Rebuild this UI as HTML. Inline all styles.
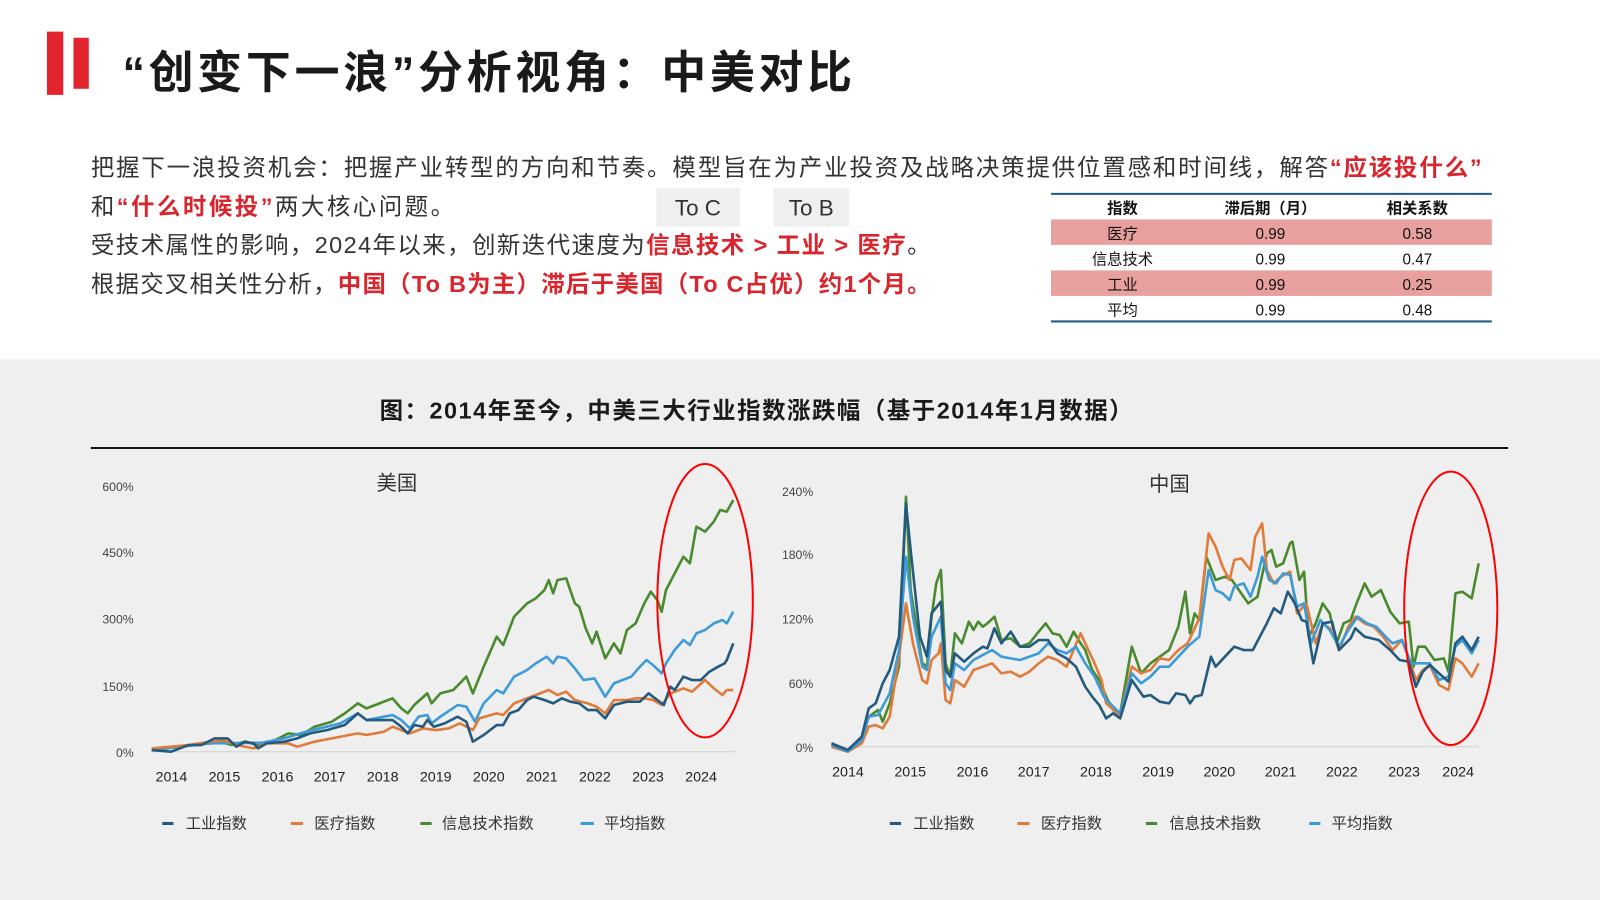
<!DOCTYPE html>
<html><head><meta charset="utf-8"><style>
html,body{margin:0;padding:0;background:#fff;}
svg{display:block;}
text{font-family:"Liberation Sans","Noto Sans CJK SC",sans-serif;}
</style></head><body>
<svg width="1600" height="900" viewBox="0 0 1568 882" preserveAspectRatio="none" xmlns="http://www.w3.org/2000/svg">
<rect x="0" y="0" width="1568" height="882" fill="#fff"/>
<rect x="0" y="352" width="1568" height="530" fill="#efefef"/>
<rect x="46" y="31" width="16" height="62" fill="#e3242f"/>
<rect x="72" y="37" width="15" height="50" fill="#e3242f"/>
<text x="120" y="86" font-size="44" font-weight="bold" fill="#1a1a1a" textLength="715" lengthAdjust="spacing">“创变下一浪”分析视角：中美对比</text>
<g font-size="23" fill="#333">
<text x="89" y="172" textLength="1363" lengthAdjust="spacing">把握下一浪投资机会：把握产业转型的方向和节奏。模型旨在为产业投资及战略决策提供位置感和时间线，解答<tspan fill="#d9262e" font-weight="bold">“应该投什么”</tspan></text>
<text x="89" y="210" textLength="356" lengthAdjust="spacing">和<tspan fill="#d9262e" font-weight="bold">“什么时候投”</tspan>两大核心问题。</text>
<text x="89" y="248" textLength="823" lengthAdjust="spacing">受技术属性的影响，2024年以来，创新迭代速度为<tspan fill="#d9262e" font-weight="bold">信息技术 &gt; 工业 &gt; 医疗</tspan>。</text>
<text x="89" y="286" textLength="823" lengthAdjust="spacing">根据交叉相关性分析，<tspan fill="#d9262e" font-weight="bold">中国（To B为主）滞后于美国（To C占优）约1个月。</tspan></text>
</g>
<rect x="643" y="184" width="82" height="38" fill="#efefef"/>
<rect x="758" y="184" width="74" height="38" fill="#efefef"/>
<text x="684" y="211" font-size="22" fill="#333" text-anchor="middle">To C</text>
<text x="795" y="211" font-size="22" fill="#333" text-anchor="middle">To B</text>
<rect x="1030" y="215" width="432" height="25" fill="#e8a09f"/>
<rect x="1030" y="265" width="432" height="25" fill="#e8a09f"/>
<line x1="1030" y1="190" x2="1462" y2="190" stroke="#1f5c8a" stroke-width="2"/>
<line x1="1030" y1="315" x2="1462" y2="315" stroke="#1f5c8a" stroke-width="2"/>
<g font-size="15" fill="#111" text-anchor="middle">
<text x="1100" y="209" font-weight="bold">指数</text><text x="1245" y="209" font-weight="bold">滞后期（月）</text><text x="1389" y="209" font-weight="bold">相关系数</text>
<text x="1100" y="234">医疗</text><text x="1245" y="234">0.99</text><text x="1389" y="234">0.58</text>
<text x="1100" y="259">信息技术</text><text x="1245" y="259">0.99</text><text x="1389" y="259">0.47</text>
<text x="1100" y="284">工业</text><text x="1245" y="284">0.99</text><text x="1389" y="284">0.25</text>
<text x="1100" y="309">平均</text><text x="1245" y="309">0.99</text><text x="1389" y="309">0.48</text>
</g>
<text x="372" y="410" font-size="23" font-weight="bold" fill="#1a1a1a" textLength="738" lengthAdjust="spacing">图：2014年至今，中美三大行业指数涨跌幅（基于2014年1月数据）</text>
<line x1="89" y1="439" x2="1478" y2="439" stroke="#111" stroke-width="2"/>

<!-- US texts -->
<g fill="#444" font-size="12" text-anchor="end">
<text x="131" y="481">600%</text><text x="131" y="546">450%</text><text x="131" y="611">300%</text><text x="131" y="677">150%</text><text x="131" y="742">0%</text>
</g>
<g fill="#222" font-size="14" text-anchor="middle">
<text x="168" y="766">2014</text><text x="220" y="766">2015</text><text x="272" y="766">2016</text><text x="323" y="766">2017</text><text x="375" y="766">2018</text><text x="427" y="766">2019</text><text x="479" y="766">2020</text><text x="531" y="766">2021</text><text x="583" y="766">2022</text><text x="635" y="766">2023</text><text x="687" y="766">2024</text>
</g>
<text x="389" y="480" fill="#333" font-size="20" text-anchor="middle">美国</text>
<g stroke-width="3">
<line x1="159" y1="807" x2="170" y2="807" stroke="#245a7e"/><line x1="285" y1="807" x2="297" y2="807" stroke="#e07b39"/><line x1="412" y1="807" x2="423" y2="807" stroke="#4a8a2e"/><line x1="569" y1="807" x2="582" y2="807" stroke="#3d9bd8"/>
</g>
<g fill="#333" font-size="15">
<text x="182" y="812">工业指数</text><text x="308" y="812">医疗指数</text><text x="433" y="812">信息技术指数</text><text x="592" y="812">平均指数</text>
</g>

<g transform="translate(78.4,441) scale(0.4254,0.3267)" fill="none" stroke-linejoin="round">
<line x1="165" y1="905" x2="1510" y2="905" stroke="#d0d0d0" stroke-width="1" vector-effect="non-scaling-stroke"/>
<g stroke-width="2.6" vector-effect="non-scaling-stroke">
<polyline vector-effect="non-scaling-stroke" stroke="#4a8a2e" points="165,900 200,895 260,885 300,880 320,875 350,885 380,875 410,885 450,870 480,850 510,855 540,830 580,815 610,790 640,760 660,775 690,760 720,745 740,775 755,790 770,765 800,730 810,760 830,730 860,720 890,680 905,730 930,650 960,560 975,585 1000,500 1030,460 1050,445 1070,420 1080,390 1090,430 1100,390 1120,385 1140,460 1150,470 1165,535 1180,580 1190,545 1210,625 1230,580 1245,610 1260,540 1280,520 1300,460 1315,425 1330,450 1340,485 1350,420 1370,370 1390,320 1405,340 1420,230 1440,245 1460,215 1475,180 1490,185 1505,150"/>
<polyline vector-effect="non-scaling-stroke" stroke="#3d9bd8" points="165,900 300,880 420,878 470,865 520,845 600,820 640,790 660,810 700,800 720,795 740,810 760,835 780,800 800,795 810,820 830,800 870,765 890,770 910,815 930,760 960,720 975,730 1000,680 1030,660 1050,640 1075,620 1090,640 1100,620 1120,625 1140,655 1160,690 1185,685 1210,740 1230,700 1250,690 1270,680 1290,650 1305,630 1320,645 1340,670 1350,640 1370,600 1390,570 1405,585 1420,550 1440,540 1460,520 1480,510 1490,520 1505,485"/>
<polyline vector-effect="non-scaling-stroke" stroke="#e07b39" points="165,895 250,885 300,875 330,870 360,885 400,895 430,880 480,880 500,890 540,875 580,865 620,855 640,850 660,855 700,845 720,830 740,840 760,850 790,835 820,840 850,835 875,820 905,840 920,805 960,790 975,795 1000,760 1030,745 1060,730 1080,720 1100,735 1120,725 1140,750 1170,760 1190,770 1210,790 1230,750 1260,750 1280,745 1300,745 1320,750 1340,765 1360,730 1390,715 1410,725 1440,690 1460,715 1480,735 1490,720 1505,720"/>
<polyline vector-effect="non-scaling-stroke" stroke="#245a7e" points="165,900 210,905 250,885 280,885 310,865 340,865 360,890 380,875 400,880 410,895 430,880 470,875 500,865 530,850 570,840 610,825 640,790 660,810 700,810 720,810 740,830 755,850 770,825 790,830 800,810 815,830 840,820 870,800 890,815 905,875 930,855 960,825 975,825 990,790 1010,780 1030,750 1045,740 1070,750 1090,760 1110,745 1130,755 1150,760 1170,780 1190,780 1210,805 1230,765 1260,755 1290,755 1310,730 1330,750 1345,765 1360,710 1370,720 1390,680 1410,690 1430,690 1450,665 1470,650 1485,640 1490,630 1505,580"/>
</g>
<ellipse cx="1440" cy="452" rx="110" ry="410" stroke="#ff0000" stroke-width="2" vector-effect="non-scaling-stroke"/>
</g>

<!-- China texts -->
<g fill="#444" font-size="12" text-anchor="end">
<text x="797" y="486">240%</text><text x="797" y="548">180%</text><text x="797" y="611">120%</text><text x="797" y="674">60%</text><text x="797" y="737">0%</text>
</g>
<g fill="#222" font-size="14" text-anchor="middle">
<text x="831" y="761">2014</text><text x="892" y="761">2015</text><text x="953" y="761">2016</text><text x="1013" y="761">2017</text><text x="1074" y="761">2018</text><text x="1135" y="761">2019</text><text x="1195" y="761">2020</text><text x="1255" y="761">2021</text><text x="1315" y="761">2022</text><text x="1376" y="761">2023</text><text x="1429" y="761">2024</text>
</g>
<text x="1146" y="481" fill="#333" font-size="20" text-anchor="middle">中国</text>
<g stroke-width="3">
<line x1="872" y1="807" x2="883" y2="807" stroke="#245a7e"/><line x1="997" y1="807" x2="1009" y2="807" stroke="#e07b39"/><line x1="1123" y1="807" x2="1134" y2="807" stroke="#4a8a2e"/><line x1="1283" y1="807" x2="1294" y2="807" stroke="#3d9bd8"/>
</g>
<g fill="#333" font-size="15">
<text x="895" y="812">工业指数</text><text x="1020" y="812">医疗指数</text><text x="1146" y="812">信息技术指数</text><text x="1305" y="812">平均指数</text>
</g>

<g transform="translate(735,441) scale(0.4563,0.3267)" fill="none" stroke-linejoin="round">
<line x1="175" y1="890" x2="1565" y2="890" stroke="#d0d0d0" stroke-width="1" vector-effect="non-scaling-stroke"/>
<g stroke-width="2.6">
<polyline vector-effect="non-scaling-stroke" stroke="#4a8a2e" points="175,880 210,900 240,870 255,800 275,780 285,815 300,760 320,650 335,140 345,420 370,640 380,650 390,500 400,400 410,360 420,640 430,680 440,550 455,580 470,515 480,540 490,515 500,530 510,520 525,500 540,570 560,565 580,590 600,580 620,545 635,520 650,550 665,555 680,590 695,545 710,580 720,600 735,660 750,690 765,740 780,780 795,790 820,590 840,670 860,640 880,620 900,600 920,530 935,425 945,550 955,490 965,510 980,320 1000,390 1020,380 1035,390 1050,420 1070,460 1090,440 1110,310 1120,300 1130,350 1145,340 1160,280 1165,275 1180,390 1190,365 1200,560 1215,520 1230,460 1245,490 1260,580 1275,520 1290,510 1300,470 1320,400 1335,440 1355,420 1375,485 1395,520 1415,515 1425,650 1435,590 1450,590 1470,630 1490,625 1500,665 1515,430 1530,425 1550,445 1565,340"/>
<polyline vector-effect="non-scaling-stroke" stroke="#e07b39" points="175,890 210,905 240,880 255,830 270,825 285,835 300,800 320,620 335,460 350,580 370,690 380,700 390,630 405,610 410,580 420,750 430,760 440,690 460,710 480,660 500,650 520,640 540,670 560,665 580,680 600,665 620,640 640,620 660,630 680,650 695,600 710,550 720,580 740,640 755,690 765,760 785,785 795,795 820,650 840,670 860,660 880,625 900,630 920,600 940,580 965,505 985,250 1000,290 1015,350 1030,390 1040,330 1055,325 1075,360 1085,260 1100,220 1110,360 1125,400 1140,380 1160,365 1175,490 1195,460 1215,580 1230,520 1250,540 1265,600 1285,530 1300,500 1320,520 1340,530 1360,560 1380,600 1400,570 1415,625 1430,690 1445,660 1460,645 1480,705 1500,720 1515,625 1530,640 1550,680 1565,640"/>
<polyline vector-effect="non-scaling-stroke" stroke="#3d9bd8" points="175,885 210,905 240,870 255,800 275,795 300,730 320,600 335,320 350,500 370,650 380,660 390,560 410,500 420,700 430,720 440,640 460,660 480,630 500,615 520,600 540,620 560,625 580,630 600,620 620,610 640,580 660,600 680,610 700,590 720,640 740,680 760,740 780,770 795,790 820,670 840,700 860,680 880,650 900,650 920,620 940,590 965,560 985,360 1000,420 1015,430 1030,450 1040,410 1060,400 1075,440 1090,380 1100,320 1115,390 1130,400 1145,370 1160,375 1175,470 1190,460 1205,580 1225,510 1245,540 1265,590 1285,540 1305,500 1325,520 1345,530 1365,560 1380,580 1400,570 1420,640 1440,640 1460,640 1480,690 1500,680 1515,590 1530,570 1550,610 1565,570"/>
<polyline vector-effect="non-scaling-stroke" stroke="#245a7e" points="175,880 210,900 240,860 255,775 270,760 285,700 300,660 320,560 335,160 345,300 365,560 380,620 390,490 410,455 420,660 430,680 440,610 460,635 480,610 500,590 510,595 525,535 540,580 560,545 580,590 600,590 620,570 640,570 660,610 680,625 700,650 720,710 735,740 750,765 765,805 780,790 795,805 820,690 845,740 860,735 880,755 900,760 915,730 935,735 945,760 955,740 970,735 990,620 1000,650 1020,620 1040,590 1060,600 1080,600 1110,520 1125,475 1140,490 1155,425 1170,460 1185,510 1195,515 1210,640 1230,520 1250,515 1265,600 1290,565 1300,535 1320,560 1350,570 1375,600 1395,630 1415,635 1430,710 1445,665 1460,645 1480,670 1500,695 1515,580 1530,560 1550,600 1565,560"/>
</g>
<ellipse cx="1505" cy="475" rx="100" ry="410" stroke="#ff0000" stroke-width="2" vector-effect="non-scaling-stroke"/>
</g>
</svg>
</body></html>
